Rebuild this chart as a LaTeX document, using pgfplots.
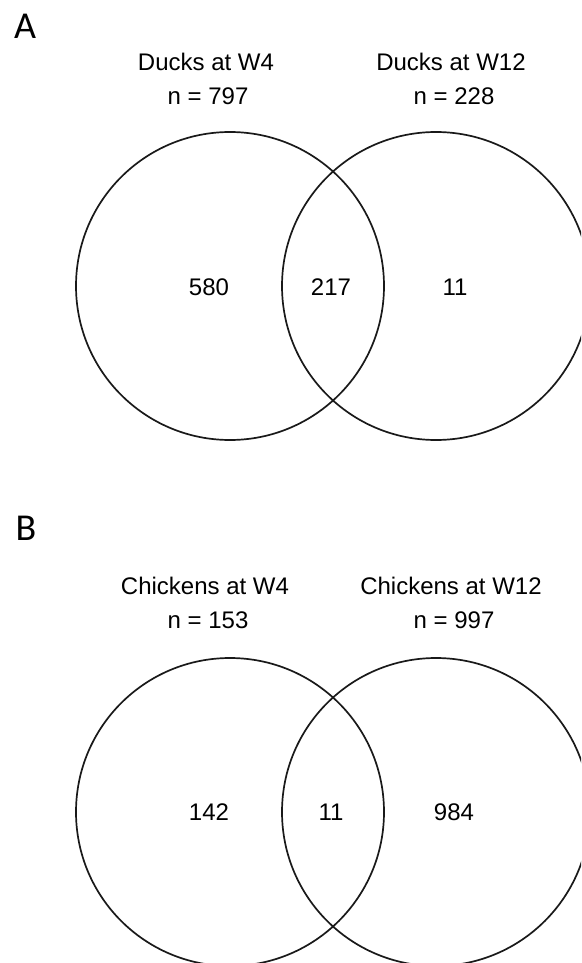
\documentclass[border=0pt]{standalone}
\usepackage{fontspec}
\setmainfont{Liberation Sans}
\newfontfamily\panelfont{Carlito}
\usepackage{pgfplots}
\usepackage{pgfplotstable}
\pgfplotsset{compat=1.18}

% Region counts of the two Venn diagrams (x, y in drawing units)
\pgfplotstableread{
x   y   label
209 287 580
331 287 217
455 287 11
209 812 142
331 812 11
454 812 984
}\counts

\begin{document}
\begin{tikzpicture}
\begin{axis}[
  scale only axis, width=581pt, height=963pt,
  xmin=0, xmax=581, ymin=0, ymax=963, y dir=reverse,
  hide axis, clip=true,
  every node near coord/.append style={anchor=center, font=\fontsize{24}{28}\selectfont, text=black},
]
% Panel A: ducks
\draw[line width=1.7pt, black!90] (axis cs:230,286) circle[radius=154];
\draw[line width=1.7pt, black!90] (axis cs:436,286) circle[radius=154];
% Panel B: chickens
\draw[line width=1.7pt, black!90] (axis cs:230,812) circle[radius=154];
\draw[line width=1.7pt, black!90] (axis cs:436,812) circle[radius=154];

\addplot[only marks, mark=none, nodes near coords, point meta=explicit symbolic]
  table[x=x, y=y, meta=label] {\counts};

\node[font=\panelfont\fontsize{38}{40}\selectfont] at (axis cs:25,26) {A};
\node[font=\panelfont\fontsize{38}{40}\selectfont] at (axis cs:26,528) {B};

\node[font=\fontsize{24}{28}\selectfont] at (axis cs:206,62) {Ducks at W4};
\node[font=\fontsize{24}{28}\selectfont] at (axis cs:208,96) {n = 797};
\node[font=\fontsize{24}{28}\selectfont] at (axis cs:451,62) {Ducks at W12};
\node[font=\fontsize{24}{28}\selectfont] at (axis cs:454,96) {n = 228};

\node[font=\fontsize{24}{28}\selectfont] at (axis cs:205,586) {Chickens at W4};
\node[font=\fontsize{24}{28}\selectfont] at (axis cs:208,620) {n = 153};
\node[font=\fontsize{24}{28}\selectfont] at (axis cs:451,586) {Chickens at W12};
\node[font=\fontsize{24}{28}\selectfont] at (axis cs:454,620) {n = 997};
\end{axis}
\pgfresetboundingbox
\useasboundingbox (current axis.south west) rectangle (current axis.north east);
\end{tikzpicture}
\end{document}
